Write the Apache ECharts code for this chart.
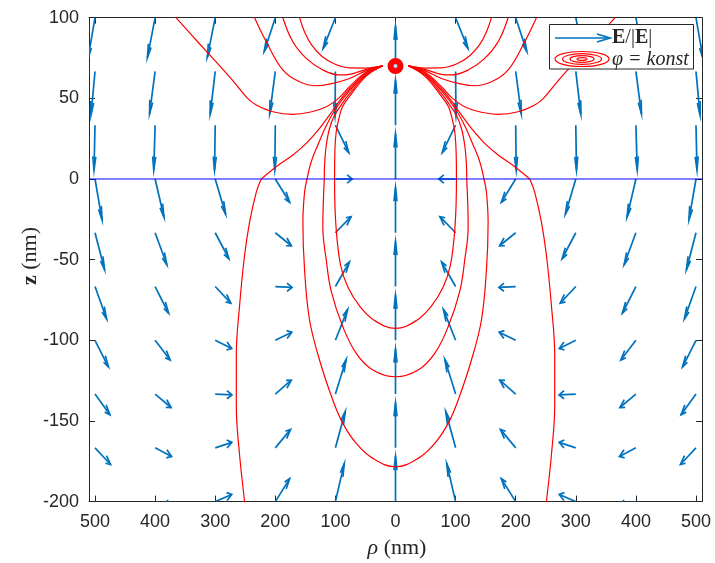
<!DOCTYPE html>
<html><head><meta charset="utf-8">
<script src="https://cdn.jsdelivr.net/npm/echarts@6/dist/echarts.min.js"></script>
<style>html,body{margin:0;padding:0;background:#fff}#c{width:715px;height:563px}</style>
</head><body><div id="c"></div>
<script>
// ---------- data ----------
const rhoGrid = [-500, -400, -300, -200, -100, 0, 100, 200, 300, 400, 500];
const zGrid = [100, 66.67, 33.33, 0, -33.33, -66.67, -100, -133.33, -166.67, -200];
// E/|E| direction components (rows = zGrid, cols = rhoGrid)
const U = [
  [-0.42,-0.46,-0.47,-0.66,-0.73, 0, 0.73, 0.66, 0.47, 0.46, 0.42],
  [-0.24,-0.33,-0.30,-0.33,-0.02, 0, 0.02, 0.33, 0.30, 0.33, 0.24],
  [-0.06,-0.08,-0.04,-0.03, 0.80, 0,-0.80, 0.03, 0.04, 0.08, 0.06],
  [ 0.42, 0.53, 0.62, 0.86, 1.00, 0,-1.00,-0.86,-0.62,-0.53,-0.42],
  [ 0.57, 0.70, 0.82, 0.96, 0.94, 0,-0.94,-0.96,-0.82,-0.70,-0.57],
  [ 0.69, 0.80, 0.93, 1.00, 0.84, 0,-0.84,-1.00,-0.93,-0.80,-0.69],
  [ 0.80, 0.90, 0.98, 0.98, 0.73, 0,-0.73,-0.98,-0.98,-0.90,-0.80],
  [ 0.89, 0.96, 1.00, 0.95, 0.64, 0,-0.64,-0.95,-1.00,-0.96,-0.89],
  [ 0.93, 0.98, 0.99, 0.91, 0.59, 0,-0.59,-0.91,-0.99,-0.98,-0.93],
  [ 0.96, 0.99, 0.99, 0.86, 0.53, 0,-0.53,-0.86,-0.99,-0.99,-0.96]
];
const V = [
  [-0.91,-0.89,-0.88,-0.75,-0.68, 1,-0.68,-0.75,-0.88,-0.89,-0.91],
  [-0.97,-0.94,-0.95,-0.94,-1.00, 1,-1.00,-0.94,-0.95,-0.94,-0.97],
  [-1.00,-1.00,-1.00,-1.00,-0.61, 1,-0.61,-1.00,-1.00,-1.00,-1.00],
  [-0.91,-0.85,-0.78,-0.52, 0.00, 1, 0.00,-0.52,-0.78,-0.85,-0.91],
  [-0.82,-0.71,-0.58,-0.29, 0.36, 1, 0.36,-0.29,-0.58,-0.71,-0.82],
  [-0.72,-0.59,-0.37,-0.02, 0.55, 1, 0.55,-0.02,-0.37,-0.59,-0.72],
  [-0.59,-0.44,-0.18, 0.18, 0.69, 1, 0.69, 0.18,-0.18,-0.44,-0.59],
  [-0.46,-0.30,-0.02, 0.31, 0.77, 1, 0.77, 0.31,-0.02,-0.30,-0.46],
  [-0.37,-0.19, 0.12, 0.41, 0.81, 1, 0.81, 0.41, 0.12,-0.19,-0.37],
  [-0.28,-0.08, 0.16, 0.51, 0.85, 1, 0.85, 0.51, 0.16,-0.08,-0.28]
];
const xTicks = [-500,-400,-300,-200,-100,0,100,200,300,400,500];
const yTicks = [-200,-150,-100,-50,0,50,100];
const chargePos = [0, 70];
const interfaceLine = [[-510, 0], [510, 0]];

// equipotential contours (phi = konst), [rho, z]
const T1L = [[-159.6,100],[-151.3,91.1],[-139.7,83.1],[-123.1,76.3],[-101.4,71.3],[-76.5,68.9],[-48.7,68.8],[-21.6,70.1]];
const T1R = [[159.6,100],[151.3,91.1],[139.7,83.1],[123.1,76.3],[101.4,71.3],[76.5,68.9],[48.7,68.8],[21.6,70.1]];
const T2L = [[-187.4,100],[-170.8,85.1],[-148.5,74.8],[-120.9,67.6],[-93.1,64.5],[-76.5,64.9],[-48.7,68.0],[-21.6,70.1]];
const T2R = [[187.4,100],[170.8,85.1],[148.5,74.8],[120.9,67.6],[93.1,64.5],[76.5,64.9],[48.7,68.0],[21.6,70.1]];
const T3L = [[-234.5,100],[-215.0,85.1],[-187.4,67.6],[-159.6,60.3],[-131.9,57.8],[-104.3,59.3],[-76.5,62.3],[-48.7,67.2],[-21.6,70.1]];
const T3R = [[234.5,100],[215.0,85.1],[187.4,67.6],[159.6,60.3],[131.9,57.8],[104.3,59.3],[76.5,62.3],[48.7,67.2],[21.6,70.1]];
const T4L = [[-365.3,100],[-329.2,85.1],[-301.5,73.8],[-273.9,62.4],[-246.1,50.0],[-231.6,45.9],[-204.0,41.7],[-170.8,40.1],[-143.1,41.4],[-115.2,44.8],[-93.1,50.6],[-76.5,57.2],[-48.7,66.4],[-21.6,70.1]];
const T4R = [[365.3,100],[329.2,85.1],[301.5,73.8],[273.9,62.4],[246.1,50.0],[231.6,45.9],[204.0,41.7],[170.8,40.1],[143.1,41.4],[115.2,44.8],[93.1,50.6],[76.5,57.2],[48.7,66.4],[21.6,70.1]];
const L5UL = [[-21.6,70.1],[-48.7,65.7],[-76.5,55.8],[-93.1,48.5],[-109.7,39.7],[-126.4,31.4],[-148.5,22.1],[-170.8,14.9],[-198.4,7.6],[-223.3,0]];
const L5UR = [[21.6,70.1],[48.7,65.7],[76.5,55.8],[93.1,48.5],[109.7,39.7],[126.4,31.4],[148.5,22.1],[170.8,14.9],[198.4,7.6],[223.3,0]];
const L5DL = [[-223.3,0],[-231.6,-8.1],[-242.8,-26.7],[-251.1,-47.3],[-259.4,-78.3],[-264.9,-109.3],[-264.9,-140.3],[-259.4,-171.3],[-251.1,-200.2],[-250.6,-203]];
const L5DR = [[223.3,0],[231.6,-8.1],[242.8,-26.7],[251.1,-47.3],[259.4,-78.3],[264.9,-109.3],[264.9,-140.3],[259.4,-171.3],[251.1,-200.2],[250.6,-203]];
const U6UL = [[-21.6,70.1],[-48.7,65.0],[-76.5,54.6],[-98.6,44.0],[-115.2,33.0],[-129.2,21.1],[-140.2,10.7],[-147.2,0]];
const U6UR = [[21.6,70.1],[48.7,65.0],[76.5,54.6],[98.6,44.0],[115.2,33.0],[129.2,21.1],[140.2,10.7],[147.2,0]];
const U6D = [[-147.2,0],[-151.3,-8.1],[-154.1,-26.7],[-151.3,-56.4],[-143.0,-87.4],[-126.4,-112.2],[-104.3,-137.0],[-87.6,-151.5],[-65.3,-163.9],[-37.7,-173.2],[0,-178.4],[37.7,-173.2],[65.3,-163.9],[87.6,-151.5],[104.3,-137.0],[126.4,-112.2],[143.0,-87.4],[151.3,-56.4],[154.1,-26.7],[151.3,-8.1],[147.2,0]];
const U7UL = [[-21.6,70.1],[-48.7,64.4],[-76.5,52.9],[-90,46],[-101.4,39.5],[-110,31],[-115.5,20],[-118.1,8],[-118.5,0]];
const U7UR = [[21.6,70.1],[48.7,64.4],[76.5,52.9],[90,46],[101.4,39.5],[110,31],[115.5,20],[118.1,8],[118.5,0]];
const U7D = [[-118.5,0],[-120.9,-29.6],[-115.2,-50.2],[-107,-69.5],[-87.6,-91.6],[-65.3,-108.1],[-37.7,-118.4],[0,-122.6],[37.7,-118.4],[65.3,-108.1],[87.6,-91.6],[107,-69.5],[115.2,-50.2],[120.9,-29.6],[118.5,0]];
const U8UL = [[-21.6,70.1],[-48.7,63.8],[-76.5,51.2],[-88,45],[-93.1,39.0],[-98.6,29.3],[-101,15],[-101.4,0]];
const U8UR = [[21.6,70.1],[48.7,63.8],[76.5,51.2],[88,45],[93.1,39.0],[98.6,29.3],[101,15],[101.4,0]];
const U8D = [[-101.4,0],[-99.3,-27.9],[-91.5,-53.3],[-79.3,-67.0],[-59.9,-78.7],[-34.9,-87.7],[0,-92.6],[34.9,-87.7],[59.9,-78.7],[79.3,-67.0],[91.5,-53.3],[99.3,-27.9],[101.4,0]];

const contours = [T1L,T1R,T2L,T2R,T3L,T3R,T4L,T4R,L5UL,L5UR,L5DL,L5DR,U6UL,U6UR,U6D,U7UL,U7UR,U7D,U8UL,U8UR,U8D];

// ---------- chart ----------
const S = 27.9;             // quiver arrow length (nm, autoscaled)
const BLUE = '#0072BD', AX = '#262626';
const arrowData = [];
for (let i = 0; i < zGrid.length; i++)
  for (let j = 0; j < rhoGrid.length; j++)
    arrowData.push([rhoGrid[j], zGrid[i], U[i][j], V[i][j]]);

function renderArrow(params, api) {
  const x = api.value(0), y = api.value(1);
  let u = api.value(2), v = api.value(3);
  const n = Math.hypot(u, v) || 1;
  u = u / n * S; v = v / n * S;
  const a = 0.3, b = 0.3;
  const p0 = api.coord([x, y]);
  const p1 = api.coord([x + u, y + v]);
  const h1 = api.coord([x + u - a * (u + b * v), y + v - a * (v - b * u)]);
  const h2 = api.coord([x + u - a * (u - b * v), y + v - a * (v + b * u)]);
  return {
    type: 'group',
    children: [
      {type: 'line', shape: {x1: p0[0], y1: p0[1], x2: p1[0], y2: p1[1]}, style: {stroke: BLUE, lineWidth: 1.7}},
      {type: 'polyline', shape: {points: [h1, p1, h2]}, style: {stroke: BLUE, lineWidth: 1.7, fill: null}}
    ]
  };
}

const series = [{
  type: 'custom', renderItem: renderArrow, data: arrowData, clip: true, silent: true, z: 2,
  encode: {x: 0, y: 1}
}];
contours.forEach(c => series.push({
  type: 'line', data: c, showSymbol: false, symbol: 'none', smooth: 0.4, silent: true, z: 3,
  lineStyle: {color: '#FF0000', width: 1.2}
}));
series.push({type: 'line', data: interfaceLine, symbol: 'none', silent: true, z: 4,
  lineStyle: {color: '#0000FF', width: 1.2}});
series.push({type: 'scatter', data: [chargePos], symbolSize: 16, silent: true, z: 5,
  itemStyle: {color: '#FF0000', opacity: 1}});
series.push({type: 'scatter', data: [chargePos], symbolSize: 4, silent: true, z: 6,
  itemStyle: {color: '#bcd6ee', opacity: 1}});

function xAxisDef(pos, labels) {
  return {
    type: 'value', min: -510, max: 510, position: pos,
    axisLine: {show: true, onZero: false, lineStyle: {color: AX, width: 1}},
    axisTick: {show: true, inside: true, length: 6, customValues: xTicks, lineStyle: {color: AX}},
    axisLabel: {show: labels, customValues: xTicks, formatter: v => String(Math.abs(v)),
      color: AX, fontSize: 18, fontFamily: 'Liberation Sans, Arial', margin: 11},
    splitLine: {show: false}
  };
}
function yAxisDef(pos, labels) {
  return {
    type: 'value', min: -200, max: 100, interval: 50, position: pos,
    axisLine: {show: true, onZero: false, lineStyle: {color: AX, width: 1}},
    axisTick: {show: true, inside: true, length: 6, lineStyle: {color: AX}},
    axisLabel: {show: labels, color: AX, fontSize: 18, fontFamily: 'Liberation Sans, Arial', margin: 10},
    splitLine: {show: false}
  };
}

const serif = 'Liberation Serif, Times New Roman, serif';
const graphic = [
  {type: 'rect', shape: {x: 549.5, y: 24.5, width: 144, height: 44.5}, style: {fill: '#fff', stroke: AX, lineWidth: 1}, z: 100},
  {type: 'line', shape: {x1: 555, y1: 38, x2: 610, y2: 38}, style: {stroke: BLUE, lineWidth: 1.7}, z: 101},
  {type: 'polyline', shape: {points: [[597, 34], [610, 38], [597, 42]]}, style: {stroke: BLUE, lineWidth: 1.7, fill: null}, z: 101},
  {type: 'ellipse', shape: {cx: 582, cy: 59, rx: 27, ry: 7.5}, style: {fill: null, stroke: '#FF0000', lineWidth: 1.2}, z: 101},
  {type: 'ellipse', shape: {cx: 582, cy: 59, rx: 19.5, ry: 5.3}, style: {fill: null, stroke: '#FF0000', lineWidth: 1.2}, z: 101},
  {type: 'ellipse', shape: {cx: 582, cy: 59, rx: 12, ry: 3.3}, style: {fill: null, stroke: '#FF0000', lineWidth: 1.2}, z: 101},
  {type: 'ellipse', shape: {cx: 582, cy: 59, rx: 5, ry: 1.4}, style: {fill: null, stroke: '#FF0000', lineWidth: 1.2}, z: 101},
  {type: 'text', x: 612, y: 38, z: 101, style: {
    text: '{b|E}/|{b|E}|', fill: '#262626', font: '20px ' + serif, align: 'left', verticalAlign: 'middle',
    rich: {b: {fontWeight: 'bold', fontSize: 20, fontFamily: serif, fill: '#262626'}}}},
  {type: 'text', x: 612, y: 60, z: 101, style: {
    text: 'φ = konst', fill: '#262626', font: 'italic 20px ' + serif, align: 'left', verticalAlign: 'middle'}},
  {type: 'text', x: 397, y: 548, z: 101, style: {
    text: '{i|ρ} (nm)', fill: '#262626', font: '22px ' + serif, align: 'center', verticalAlign: 'middle',
    rich: {i: {fontStyle: 'italic', fontSize: 22, fontFamily: serif, fill: '#262626'}}}},
  {type: 'text', x: 30, y: 256, rotation: Math.PI / 2, z: 101, style: {
    text: '{b|z} (nm)', fill: '#262626', font: '22px ' + serif, align: 'center', verticalAlign: 'middle',
    rich: {b: {fontWeight: 'bold', fontSize: 22, fontFamily: serif, fill: '#262626'}}}}
];

const chart = echarts.init(document.getElementById('c'), null, {renderer: 'canvas'});
chart.setOption({
  animation: false,
  backgroundColor: '#fff',
  grid: {left: 89, right: 13, top: 17.7, bottom: 61.4, containLabel: false, outerBoundsMode: 'none'},
  xAxis: [xAxisDef('bottom', true), xAxisDef('top', false)],
  yAxis: [yAxisDef('left', true), yAxisDef('right', false)],
  series: series,
  graphic: graphic
});
</script>
</body></html>
